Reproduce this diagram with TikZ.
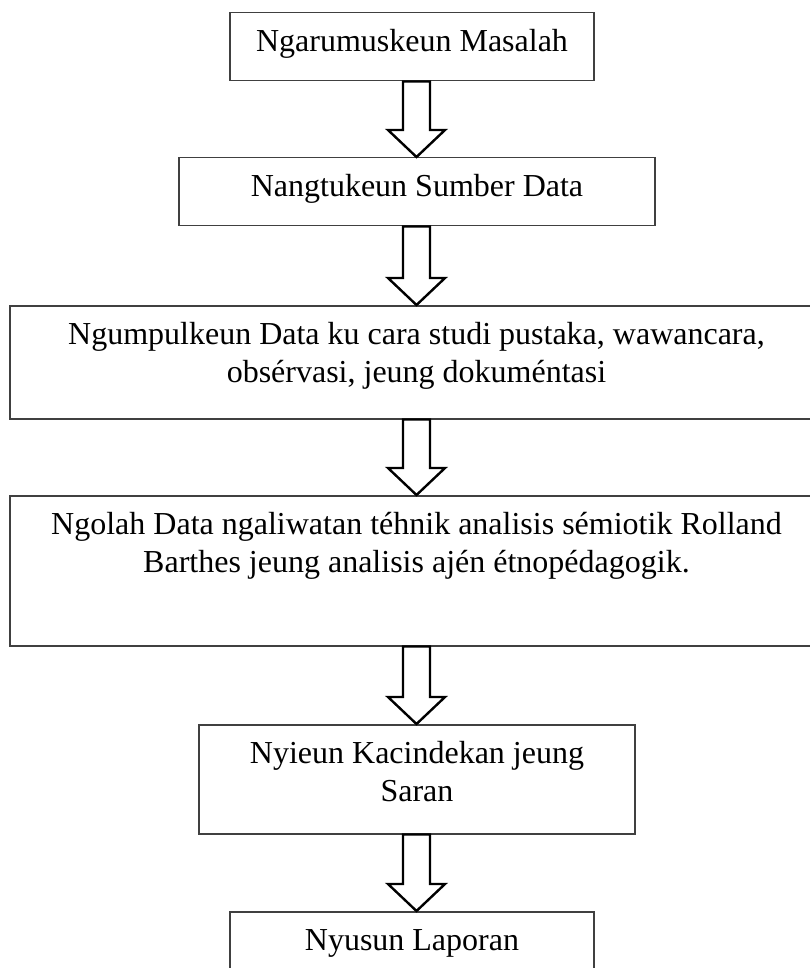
\documentclass[tikz,border=0pt]{standalone}
\usepackage{fontspec}
\setmainfont{Liberation Serif}
\usetikzlibrary{calc}

\begin{document}
\begin{tikzpicture}[x=1pt, y=-1pt,
  stepbox/.style={draw=black!75, line width=1.5pt, anchor=north, inner xsep=10pt, inner ysep=0pt,
    text height=39pt, align=flush center, font=\fontsize{32}{38}\selectfont},
  blockarrow/.style={draw=black, line width=2.4pt, line join=miter, fill=white}]

% page, the lower and right ends of the boxes run off it
\clip (0,0) rectangle (810,968);
\fill[white] (0,0) rectangle (810,968);

\coordinate (axis) at (416.5,0);

%% boxes
\node[stepbox, text width=344pt, text depth=29pt] (masalah) at (412,12) {Ngarumuskeun Masalah};
\node[stepbox, text width=456pt, text depth=29pt] (sumber) at (417,157) {Nangtukeun Sumber Data};
\node[stepbox, text width=793pt, text depth=74pt] (ngumpul) at (416.5,305)
  {Ngumpulkeun Data ku cara studi pustaka, wawancara,\\ obsérvasi, jeung dokuméntasi};
\node[stepbox, text width=793pt, text depth=111pt] (ngolah) at (416.5,495)
  {Ngolah Data ngaliwatan téhnik analisis sémiotik Rolland\\ Barthes jeung analisis ajén étnopédagogik.};
\node[stepbox, text width=416pt, text depth=70pt] (kacindekan) at (417,724) {Nyieun Kacindekan jeung\\ Saran};
\node[stepbox, text width=344pt, text depth=29pt] (laporan) at (412,911) {Nyusun Laporan};

%% hollow arrows
 \foreach \a/\b in {masalah/sumber, sumber/ngumpul, ngumpul/ngolah, ngolah/kacindekan, kacindekan/laporan}
  {
    \draw[blockarrow] (\a.south -| axis) ++(-13.5,0) -- ++(27,0)
      -- ($(\b.north -| axis)+(13.5,-27)$) -- ++(15,0) -- (\b.north -| axis)
      -- ++(-28.5,-27) -- ++(15,0) -- cycle;
  }

\end{tikzpicture}
\end{document}
